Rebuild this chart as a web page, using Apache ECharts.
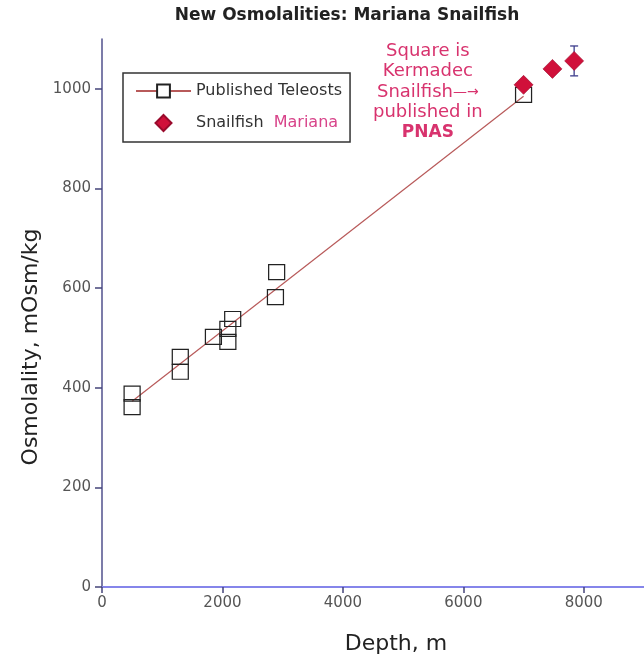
<!DOCTYPE html>
<html>
<head>
<meta charset="utf-8">
<script src="https://cdn.jsdelivr.net/npm/echarts@6/dist/echarts.min.js"></script>
<style>
  html, body { margin: 0; padding: 0; background: #fff; }
  #main { width: 644px; height: 660px; }
</style>
</head>
<body>
<div id="main"></div>
<script>
// published teleosts (depth m, osmolality mOsm/kg)
var teleostDepth = [500, 500, 1300, 1300, 1850, 2090, 2090, 2170, 2880, 2900, 7000];
var teleostOsm = [388, 361, 462, 432, 502, 518, 492, 538, 582, 632, 988];
// Mariana snailfish
var snailDepth = [7000, 7480, 7840];
var snailOsm = [1008, 1040, 1056];
var snailErrLow = [1008, 1040, 1026];
var snailErrHigh = [1008, 1040, 1086];
// regression line through teleosts
var fitDepth = [500, 7000];
var fitOsm = [373, 985];
var xTicks = [0, 2000, 4000, 6000, 8000];
var yTicks = [0, 200, 400, 600, 800, 1000];

var pink = '#d8336e';
var chart = echarts.init(document.getElementById('main'));

function zip(a, b) { return a.map(function (v, i) { return [v, b[i]]; }); }
function plain(v) { return String(v); }

var option = {
  backgroundColor: '#fff',
  animation: false,
  title: {
    text: 'New Osmolalities: Mariana Snailfish',
    left: 342, top: 2, textAlign: 'center',
    textStyle: { fontFamily: 'DejaVu Sans', fontWeight: 'bold', fontSize: 17, color: '#222' }
  },
  legend: {
    orient: 'vertical',
    left: 123, top: 73,
    padding: [10, 8, 10, 12],
    itemWidth: 55, itemHeight: 16, itemGap: 15,
    borderColor: '#333', borderWidth: 1.5,
    data: ['Published Teleosts', { name: 'Snailfish', icon: 'path://M8,0L16,8L8,16L0,8Z' }],
    formatter: function (name) {
      return name === 'Snailfish' ? 'Snailfish  {m|Mariana}' : name;
    },
    textStyle: {
      fontFamily: 'DejaVu Sans', fontSize: 16, color: '#333',
      rich: { m: { color: '#d8448a', fontFamily: 'DejaVu Sans', fontSize: 16 } }
    }
  },
  grid: { left: 102, top: 39, width: 553.5, height: 548 },
  xAxis: {
    type: 'value', min: 0, max: 9000,
    name: 'Depth, m', nameLocation: 'middle', nameGap: 46,
    nameTextStyle: { fontFamily: 'DejaVu Sans', fontSize: 22, color: '#222', padding: [0, 0, 0, 46] },
    axisLine: { lineStyle: { color: '#8585ea', width: 2 } },
    axisTick: { length: 6, customValues: xTicks, lineStyle: { color: '#44447a', width: 1.5 } },
    axisLabel: {
      margin: 9, fontFamily: 'DejaVu Sans', fontSize: 15, color: '#555',
      customValues: xTicks, formatter: plain
    },
    splitLine: { show: false }
  },
  yAxis: {
    type: 'value', min: 0, max: 1100,
    name: 'Osmolality, mOsm/kg', nameLocation: 'middle', nameGap: 58,
    nameTextStyle: { fontFamily: 'DejaVu Sans', fontSize: 22, color: '#222', padding: [0, 68, 0, 0] },
    axisLine: { show: true, lineStyle: { color: '#50508c', width: 1.5 } },
    axisTick: { show: true, length: 7, customValues: yTicks, lineStyle: { color: '#44447a', width: 1.5 } },
    axisLabel: {
      margin: 11, fontFamily: 'DejaVu Sans', fontSize: 15, color: '#555',
      customValues: yTicks, formatter: plain
    },
    splitLine: { show: false }
  },
  graphic: [{
    type: 'text', left: 373, top: 42,
    style: {
      text: '{t|Square is}\n{t|Kermadec}\n{t|Snailfish}{a|\u2014\u2192}\n{t|published in}\n{b|PNAS}',
      align: 'center',
      fill: pink,
      rich: {
        t: { fontFamily: 'DejaVu Sans', fontSize: 18, lineHeight: 20.5, fill: pink, align: 'center' },
        a: { fontFamily: 'DejaVu Sans', fontSize: 14, lineHeight: 20.5, fill: pink },
        b: { fontFamily: 'DejaVu Sans', fontWeight: 'bold', fontSize: 17, lineHeight: 20.5, fill: pink, align: 'center' }
      }
    }
  }],
  series: [
    {
      name: 'Published Teleosts', type: 'line',
      data: zip(fitDepth, fitOsm),
      symbol: 'rect', symbolSize: 14, showSymbol: false,
      lineStyle: { color: '#b85a5a', width: 1.2 },
      itemStyle: { color: '#fff', borderColor: '#222', borderWidth: 1.3 },
      z: 2
    },
    {
      name: 'Teleost points', type: 'scatter',
      data: zip(teleostDepth, teleostOsm),
      symbol: 'rect', symbolSize: [16, 15],
      itemStyle: { color: 'rgba(0,0,0,0)', borderColor: '#222', borderWidth: 1.2, opacity: 1 },
      z: 3
    },
    {
      name: 'Snailfish error', type: 'custom',
      data: snailDepth.map(function (d, i) { return [d, snailErrLow[i], snailErrHigh[i]]; }),
      renderItem: function (params, api) {
        var lo = api.coord([api.value(0), api.value(1)]);
        var hi = api.coord([api.value(0), api.value(2)]);
        if (Math.abs(lo[1] - hi[1]) < 1) return null;
        var c = 4;
        return {
          type: 'group',
          children: [
            { type: 'line', shape: { x1: lo[0], y1: lo[1], x2: hi[0], y2: hi[1] }, style: { stroke: '#3c3c8c', lineWidth: 1.3 } },
            { type: 'line', shape: { x1: lo[0] - c, y1: lo[1], x2: lo[0] + c, y2: lo[1] }, style: { stroke: '#3c3c8c', lineWidth: 1.3 } },
            { type: 'line', shape: { x1: hi[0] - c, y1: hi[1], x2: hi[0] + c, y2: hi[1] }, style: { stroke: '#3c3c8c', lineWidth: 1.3 } }
          ]
        };
      },
      z: 4
    },
    {
      name: 'Snailfish', type: 'scatter',
      data: zip(snailDepth, snailOsm),
      symbol: 'diamond', symbolSize: 19,
      itemStyle: { color: '#d0103a', borderColor: '#9a0a2c', borderWidth: 0.6, opacity: 1 },
      z: 5
    }
  ]
};
chart.setOption(option);
</script>
</body>
</html>
